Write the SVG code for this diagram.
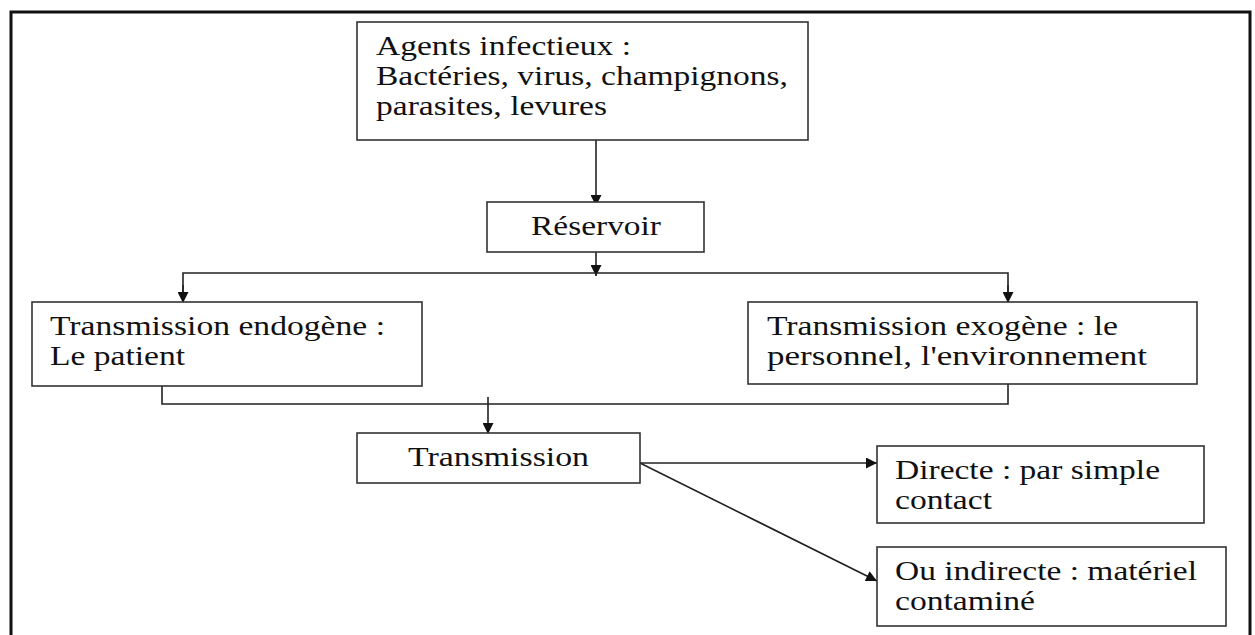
<svg xmlns="http://www.w3.org/2000/svg" width="1255" height="635" viewBox="0 0 1255 635">
<style>
.box{fill:#fff;stroke:#333;stroke-width:1.6}
.t{font-family:"Liberation Serif","Times New Roman",serif;font-size:27.5px;fill:#111}
.c{fill:none;stroke:#222;stroke-width:1.6}
</style>
<defs>
<marker id="ah" viewBox="0 0 10 10" refX="10" refY="5" markerWidth="11" markerHeight="11" markerUnits="userSpaceOnUse" orient="auto">
<path d="M0,0 L10,5 L0,10 z" fill="#111"/>
</marker>
</defs>
<rect width="1255" height="635" fill="#fff"/>
<path d="M11,640 L11,12 L1250,12 L1250,640" fill="none" stroke="#111" stroke-width="3"/>
<g id="connectors">
<line class="c" x1="596" y1="140" x2="596" y2="206" marker-end="url(#ah)"/>
<line class="c" x1="596" y1="252" x2="596" y2="276" marker-end="url(#ah)"/>
<polyline class="c" points="183,302 183,273 1008,273 1008,302"/>
<line class="c" x1="183" y1="285" x2="183" y2="303" marker-end="url(#ah)"/>
<line class="c" x1="1008" y1="285" x2="1008" y2="303" marker-end="url(#ah)"/>
<polyline class="c" points="162,374 162,404 1008,404 1008,374"/>
<line class="c" x1="488" y1="397" x2="488" y2="434" marker-end="url(#ah)"/>
<line class="c" x1="640" y1="463" x2="877" y2="463" marker-end="url(#ah)"/>
<line class="c" x1="640" y1="463" x2="877" y2="581" marker-end="url(#ah)"/>
</g>
<g id="agents">
<rect class="box" x="357" y="22" width="451" height="118"/>
<text class="t" x="376" y="55" textLength="255" lengthAdjust="spacingAndGlyphs">Agents infectieux :</text>
<text class="t" x="376" y="85" textLength="412" lengthAdjust="spacingAndGlyphs">Bactéries, virus, champignons,</text>
<text class="t" x="376" y="115" textLength="231" lengthAdjust="spacingAndGlyphs">parasites, levures</text>
</g>
<g id="reservoir">
<rect class="box" x="487" y="202" width="217" height="50"/>
<text class="t" x="531" y="235" textLength="130" lengthAdjust="spacingAndGlyphs">Réservoir</text>
</g>
<g id="endogene">
<rect class="box" x="32" y="302" width="390" height="84"/>
<text class="t" x="50" y="335" textLength="335" lengthAdjust="spacingAndGlyphs">Transmission endogène :</text>
<text class="t" x="50" y="365" textLength="135" lengthAdjust="spacingAndGlyphs">Le patient</text>
</g>
<g id="exogene">
<rect class="box" x="748" y="302" width="449" height="82"/>
<text class="t" x="767" y="335" textLength="351" lengthAdjust="spacingAndGlyphs">Transmission exogène : le</text>
<text class="t" x="767" y="365" textLength="380" lengthAdjust="spacingAndGlyphs">personnel, l'environnement</text>
</g>
<g id="transmission">
<rect class="box" x="357" y="433" width="283" height="50"/>
<text class="t" x="408" y="466" textLength="181" lengthAdjust="spacingAndGlyphs">Transmission</text>
</g>
<g id="directe">
<rect class="box" x="877" y="446" width="327" height="77"/>
<text class="t" x="895" y="479" textLength="265" lengthAdjust="spacingAndGlyphs">Directe : par simple</text>
<text class="t" x="895" y="509" textLength="97" lengthAdjust="spacingAndGlyphs">contact</text>
</g>
<g id="indirecte">
<rect class="box" x="877" y="547" width="349" height="79"/>
<text class="t" x="895" y="580" textLength="302" lengthAdjust="spacingAndGlyphs">Ou indirecte : matériel</text>
<text class="t" x="895" y="610" textLength="140" lengthAdjust="spacingAndGlyphs">contaminé</text>
</g>
</svg>
